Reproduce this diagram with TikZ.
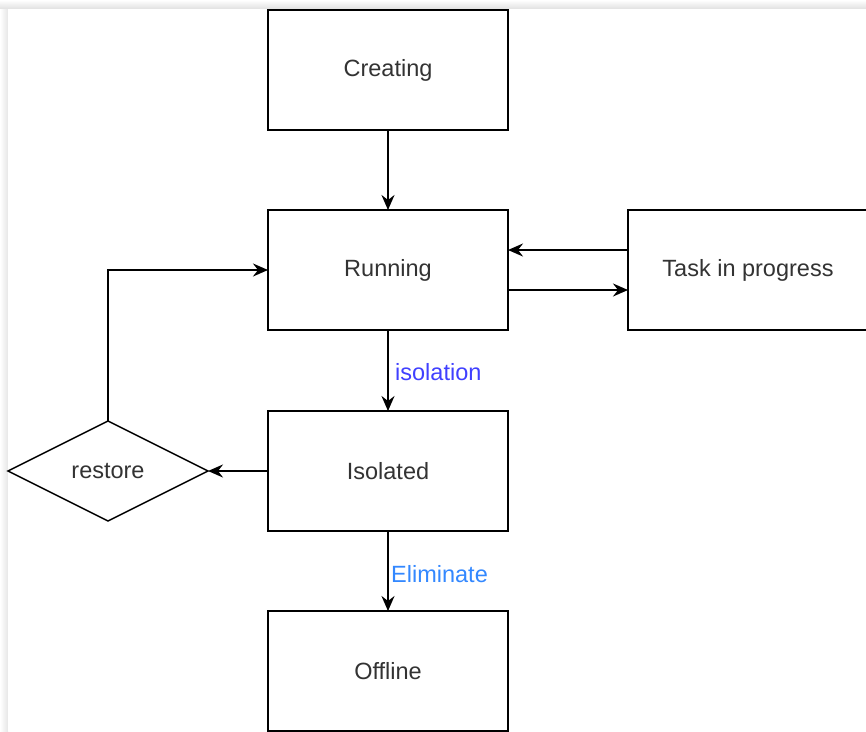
\documentclass[tikz,border=0pt]{standalone}
\usepackage{fontspec}
\setmainfont{Liberation Sans}
\usetikzlibrary{shapes.geometric,arrows.meta}
\definecolor{txt}{HTML}{333333}
\definecolor{isoblue}{HTML}{4040FF}
\definecolor{elimblue}{HTML}{3388FF}
\begin{document}
\begin{tikzpicture}[x=1pt,y=-1pt,
  box/.style={draw=black,line width=2pt,fill=white,minimum width=240pt,minimum height=120pt,inner sep=0pt,outer sep=0pt,font=\fontsize{23.5pt}{27pt}\selectfont,text=txt},
  dia/.style={diamond,draw=black,line width=1.5pt,fill=white,minimum width=200pt,minimum height=100pt,inner sep=0pt,outer sep=0pt,aspect=2,font=\fontsize{23.5pt}{27pt}\selectfont,text=txt},
  conn/.style={line width=2pt,-{Stealth[length=15pt,width=13pt,inset=5pt]}},
  lbl/.style={anchor=west,inner sep=0pt,font=\fontsize{23.5pt}{27pt}\selectfont}]
\useasboundingbox (0,0) rectangle (866,731);
\clip (0,0) rectangle (866,731);
\fill[white] (0,0) rectangle (866,731);
\shade[top color=white,bottom color=black!12] (0,0) rectangle (866,9);
\shade[left color=white,right color=black!10] (0,9) rectangle (8,731);
\fill[white] (8,9) rectangle (866,731);
\node[box] (creating) at (388,70) {Creating};
\node[box] (running) at (388,270) {Running};
\node[box] (task) at (748,270) {Task in progress};
\node[box] (isolated) at (388,471) {Isolated};
\node[box] (offline) at (388,671) {Offline};
\node[dia] (restore) at (108,471) {restore};
\draw[conn] (creating) -- (running);
\draw[conn] (running) -- (isolated);
\draw[conn] (isolated) -- (offline);
\draw[conn] (isolated) -- (restore);
\draw[conn] (restore.north) |- (running.west);
\draw[conn] ([yshift=20pt]task.west) -- ([yshift=20pt]running.east);
\draw[conn] ([yshift=-20pt]running.east) -- ([yshift=-20pt]task.west);
\node[lbl,text=isoblue] (lisolation) at (395,372) {isolation};
\node[lbl,text=elimblue] (leliminate) at (391,574) {Eliminate};
\end{tikzpicture}
\end{document}
